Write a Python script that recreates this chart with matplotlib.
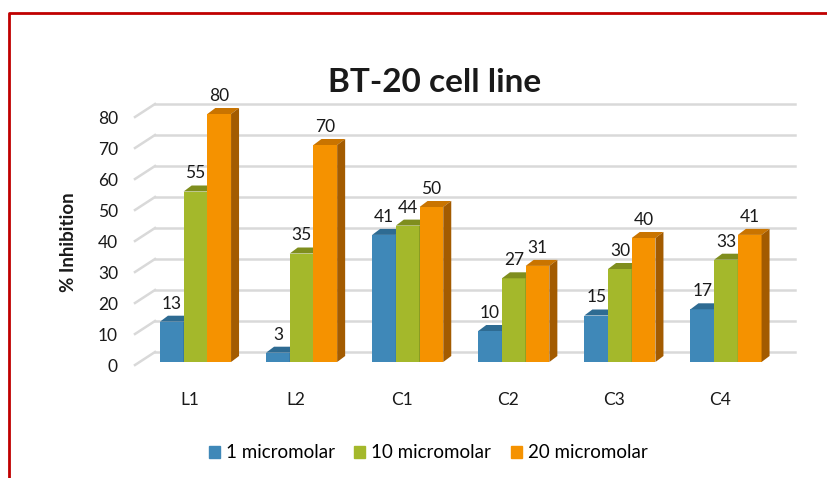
import numpy as np
import matplotlib
matplotlib.use('Agg')
import matplotlib.pyplot as plt
from matplotlib.patches import Polygon, Patch
from matplotlib.lines import Line2D

plt.rcParams['font.family'] = ['Lato', 'DejaVu Sans']

categories = ['L1', 'L2', 'C1', 'C2', 'C3', 'C4']
series_names = ['1 micromolar', '10 micromolar', '20 micromolar']
v_1um = [13, 3, 41, 10, 15, 17]
v_10um = [55, 35, 44, 27, 30, 33]
v_20um = [80, 70, 50, 31, 40, 41]
yticks = [0, 10, 20, 30, 40, 50, 60, 70, 80]

front = ['#3F88B8', '#A4B82B', '#F59200']
top = ['#2E6B92', '#7F8E1E', '#C97400']
side = ['#2A5C7E', '#6B7A17', '#A35B00']

W, H = 828, 478
# pixel geometry of the plot
X0, XS = 195.5, 106.1    # px of first group centre, px per group
Y0, YS = 362.0, 3.1      # px of value 0 (bar front), px per unit
AX_L, AX_R, AX_T, AX_B = 100, 805, 85, 385

fig = plt.figure(figsize=(W / 100, H / 100), dpi=100)
ax = fig.add_axes([AX_L / W, 1 - AX_B / H, (AX_R - AX_L) / W, (AX_B - AX_T) / H])
ax.set_xlim((AX_L - X0) / XS, (AX_R - X0) / XS)
ax.set_ylim((Y0 - AX_B) / YS, (Y0 - AX_T) / YS)
ax.axis('off')

def dxp(p):
    return p / XS

def dyp(p):
    return p / YS

def xpx(p):
    return (p - X0) / XS

# back wall gridlines with short floor diagonals
for v in yticks:
    yw = v + dyp(10)
    ax.plot([xpx(155), xpx(795)], [yw, yw], color='#D9D9D9', lw=1.8, zorder=1)
    ax.plot([xpx(135), xpx(155)], [v - dyp(3), yw], color='#D9D9D9', lw=1.8, zorder=1)
    ax.text(xpx(118), v - dyp(5), str(v), ha='right', va='center', fontsize=12.5, color='#1a1a1a')

bw = 23.7 / XS
ddx, ddy = dxp(8), dyp(6)
x = np.arange(len(categories))
for k, vals in enumerate([v_1um, v_10um, v_20um]):
    xs = x - 1.5 * bw + k * bw
    ax.bar(xs, vals, width=bw, align='edge', color=front[k], zorder=3 + k, linewidth=0)
    for xi, v in zip(xs, vals):
        ax.add_patch(Polygon([(xi, v), (xi + bw, v), (xi + bw + ddx, v + ddy), (xi + ddx, v + ddy)],
                             closed=True, color=top[k], lw=0, zorder=3 + k))
        ax.add_patch(Polygon([(xi + bw, 0), (xi + bw, v), (xi + bw + ddx, v + ddy), (xi + bw + ddx, ddy)],
                             closed=True, color=side[k], lw=0, zorder=3 + k))
        ax.text(xi + bw / 2, v + dyp(18), str(v), ha='center', va='center', fontsize=12.5,
                color='#1a1a1a', zorder=10)

for i, c in enumerate(categories):
    ax.text(i - dxp(6), (Y0 - 400) / YS, c, ha='center', va='center', fontsize=12.5, color='#1a1a1a')

fig.text(435 / W, 1 - 82 / H, 'BT-20 cell line', ha='center', va='center', fontsize=24,
         fontweight='bold', color='#1a1a1a')
fig.text(68.5 / W, 1 - 242 / H, '% Inhibition', ha='center', va='center', rotation=90,
         fontsize=13.5, fontweight='bold', color='#1a1a1a')

handles = [Patch(color=front[k], label=series_names[k]) for k in range(3)]
fig.legend(handles=handles, loc='center', bbox_to_anchor=(428 / W, 1 - 453 / H), ncol=3,
           frameon=False, fontsize=13.5, handlelength=0.6, handleheight=0.6,
           handletextpad=0.3, columnspacing=1.05)

# red frame (top and left)
fig.add_artist(Line2D([9 / W, 9 / W, 1], [0, 1 - 13 / H, 1 - 13 / H], color='#C00000', lw=2))

fig.savefig('out.png', dpi=100)
